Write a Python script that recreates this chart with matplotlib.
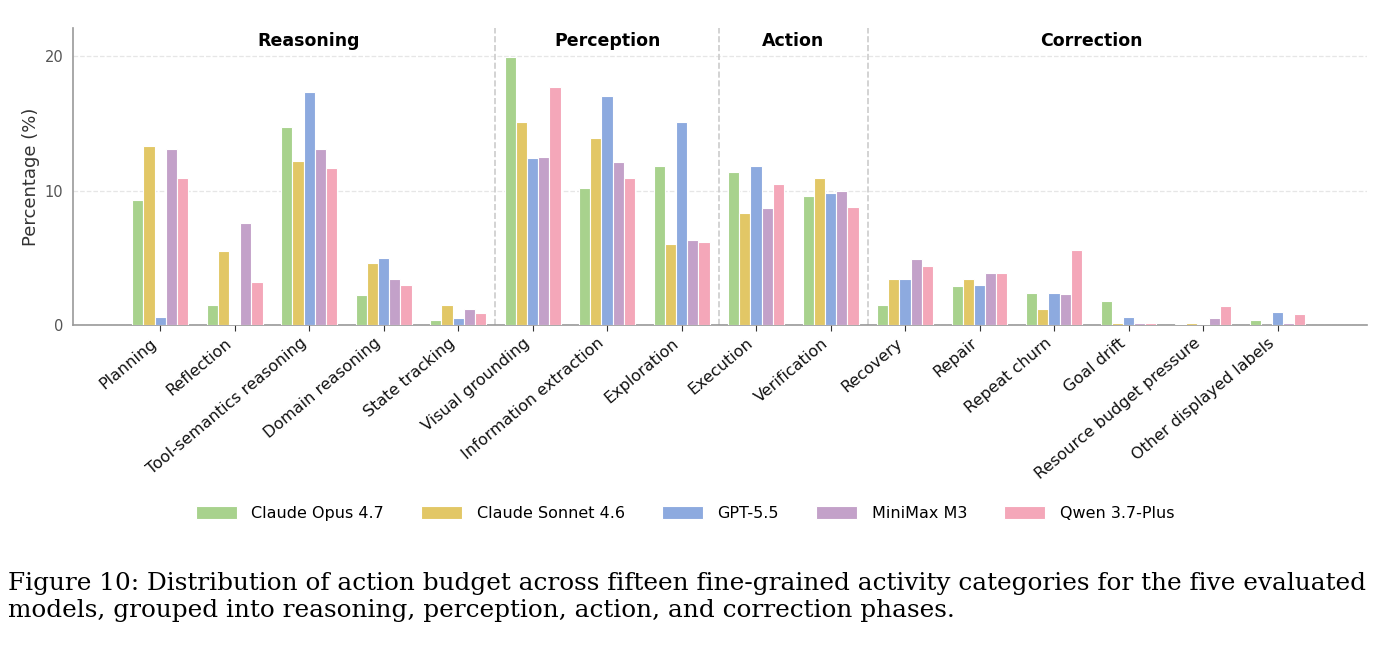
import matplotlib.pyplot as plt
import numpy as np

# Activity categories and their phase grouping
categories = ['Planning', 'Reflection', 'Tool-semantics reasoning', 'Domain reasoning',
              'State tracking', 'Visual grounding', 'Information extraction', 'Exploration',
              'Execution', 'Verification', 'Recovery', 'Repair', 'Repeat churn',
              'Goal drift', 'Resource budget pressure', 'Other displayed labels']
phases = ['Reasoning', 'Perception', 'Action', 'Correction']
phase_sizes = [5, 3, 2, 6]

models = ['Claude Opus 4.7', 'Claude Sonnet 4.6', 'GPT-5.5', 'MiniMax M3', 'Qwen 3.7-Plus']
colors = ['#A8D28D', '#E2C766', '#8DAADF', '#C3A1C9', '#F4A7B9']

# Percentages
opus = [9.3, 1.5, 14.7, 2.2, 0.4, 19.9, 10.2, 11.8, 11.4, 9.6, 1.5, 2.9, 2.4, 1.8, 0.05, 0.4]
sonnet = [13.3, 5.5, 12.2, 4.6, 1.5, 15.1, 13.9, 6.0, 8.3, 10.9, 3.4, 3.4, 1.2, 0.15, 0.15, 0.0]
gpt = [0.6, 0.07, 17.3, 5.0, 0.5, 12.4, 17.0, 15.1, 11.8, 9.8, 3.4, 3.0, 2.4, 0.6, 0.05, 1.0]
minimax = [13.1, 7.6, 13.1, 3.4, 1.2, 12.5, 12.1, 6.3, 8.7, 10.0, 4.9, 3.9, 2.3, 0.15, 0.5, 0.15]
qwen = [10.9, 3.2, 11.7, 3.0, 0.9, 17.7, 10.9, 6.2, 10.5, 8.8, 4.4, 3.9, 5.6, 0.15, 1.4, 0.8]
series = [opus, sonnet, gpt, minimax, qwen]

fig = plt.figure(figsize=(13.92, 6.48), dpi=100)
ax = fig.add_axes([0.0524, 0.4985, 0.9296, 0.4585])

x = np.arange(len(categories))
width = 0.15
for i, (vals, col, name) in enumerate(zip(series, colors, models)):
    ax.bar(x + (i - 2) * width, vals, width, color=col, edgecolor='white',
           linewidth=0.8, label=name, zorder=3)

ax.set_xlim(-1.17, 16.2)
ax.set_ylim(0, 22.1)
ax.set_yticks([0, 10, 20])
ax.yaxis.grid(True, linestyle='--', color='#e6e6e6', linewidth=0.9, zorder=0)
ax.set_axisbelow(True)
for s in ['top', 'right']:
    ax.spines[s].set_visible(False)
for s in ['left', 'bottom']:
    ax.spines[s].set_color('#999999')
    ax.spines[s].set_linewidth(1.2)

ax.set_xticks(x)
ax.set_xticklabels(categories, rotation=40, ha='right', fontsize=11.5)
ax.tick_params(axis='x', colors='#333333', length=4, labelcolor='#111111')
ax.tick_params(axis='y', colors='#999999', length=0, labelcolor='#555555', labelsize=10.5, pad=7)
ax.set_ylabel('Percentage (%)', fontsize=13, color='#333333', labelpad=3)

# Phase separators and labels
start = 0
for k, (ph, n) in enumerate(zip(phases, phase_sizes)):
    center = start + (n - 1) / 2
    ax.text(center, 0.956, ph, transform=ax.get_xaxis_transform(), ha='center', va='center',
            fontsize=12.5, fontweight='bold')
    if k < len(phases) - 1:
        ax.axvline(start + n - 0.5, color='#cccccc', linestyle='--', linewidth=1.2, zorder=1)
    start += n

handles, labels = ax.get_legend_handles_labels()
fig.legend(handles, labels, loc='center', bbox_to_anchor=(0.492, 0.208), ncol=5,
           frameon=False, fontsize=11.5, handlelength=2.6, handleheight=0.9,
           columnspacing=2.3, handletextpad=0.9)

fig.text(0.006, 0.079, 'Figure 10: Distribution of action budget across fifteen fine-grained activity categories for the five evaluated\n'
         'models, grouped into reasoning, perception, action, and correction phases.',
         fontsize=17.8, family='DejaVu Serif', ha='left', va='center', linespacing=1.2)

fig.savefig('out.png', dpi=100)
